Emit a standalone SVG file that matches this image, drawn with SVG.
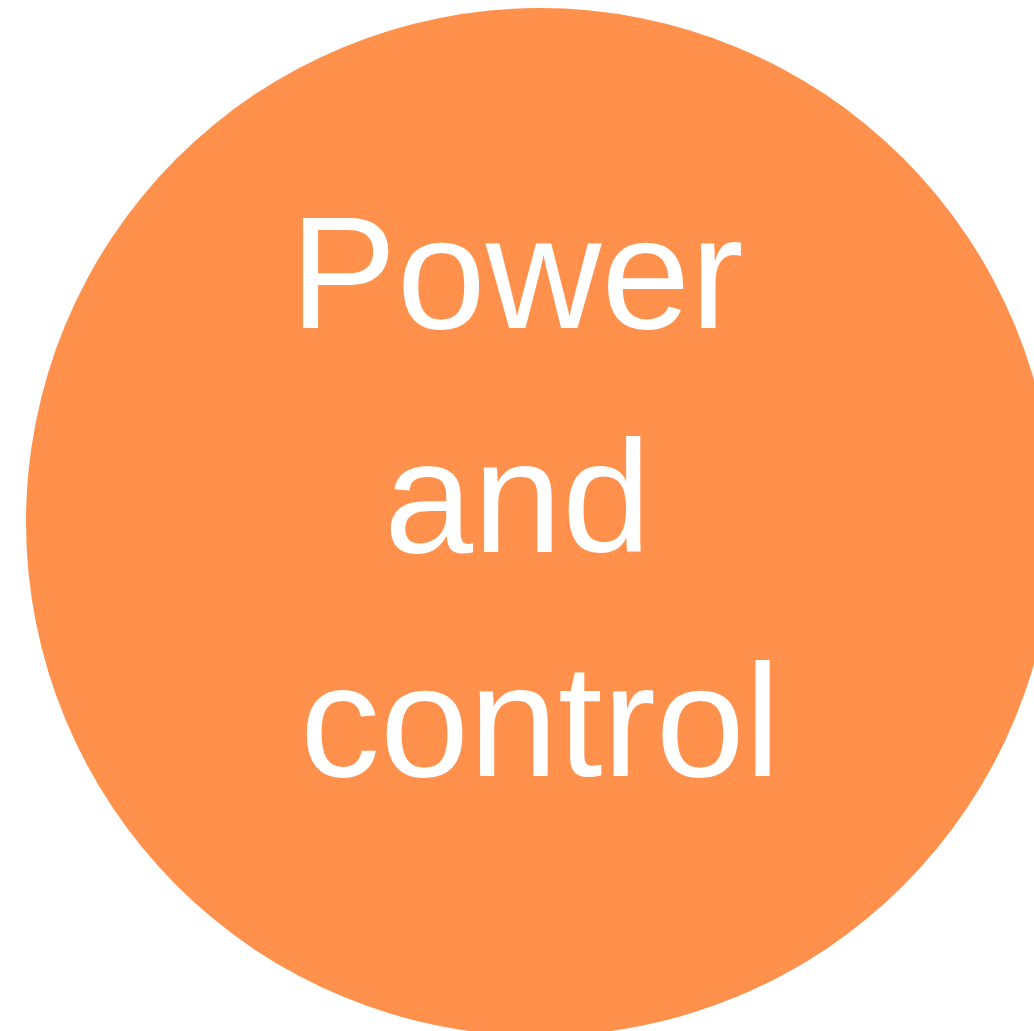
<svg xmlns="http://www.w3.org/2000/svg" width="1034" height="1031" viewBox="0 0 1034 1031">
<style>
.lbl{font-family:"Liberation Sans",Arial,sans-serif;font-size:160px;fill:#ffffff}
</style>
<rect width="1034" height="1031" fill="#ffffff"/>
<g id="node-power-control">
<circle cx="540" cy="522" r="514" fill="#ff914d"/>
<text class="lbl" x="290" y="328">Power</text>
<text class="lbl" x="384" y="552">and</text>
<text class="lbl" x="300" y="776">control</text>
</g>
</svg>
